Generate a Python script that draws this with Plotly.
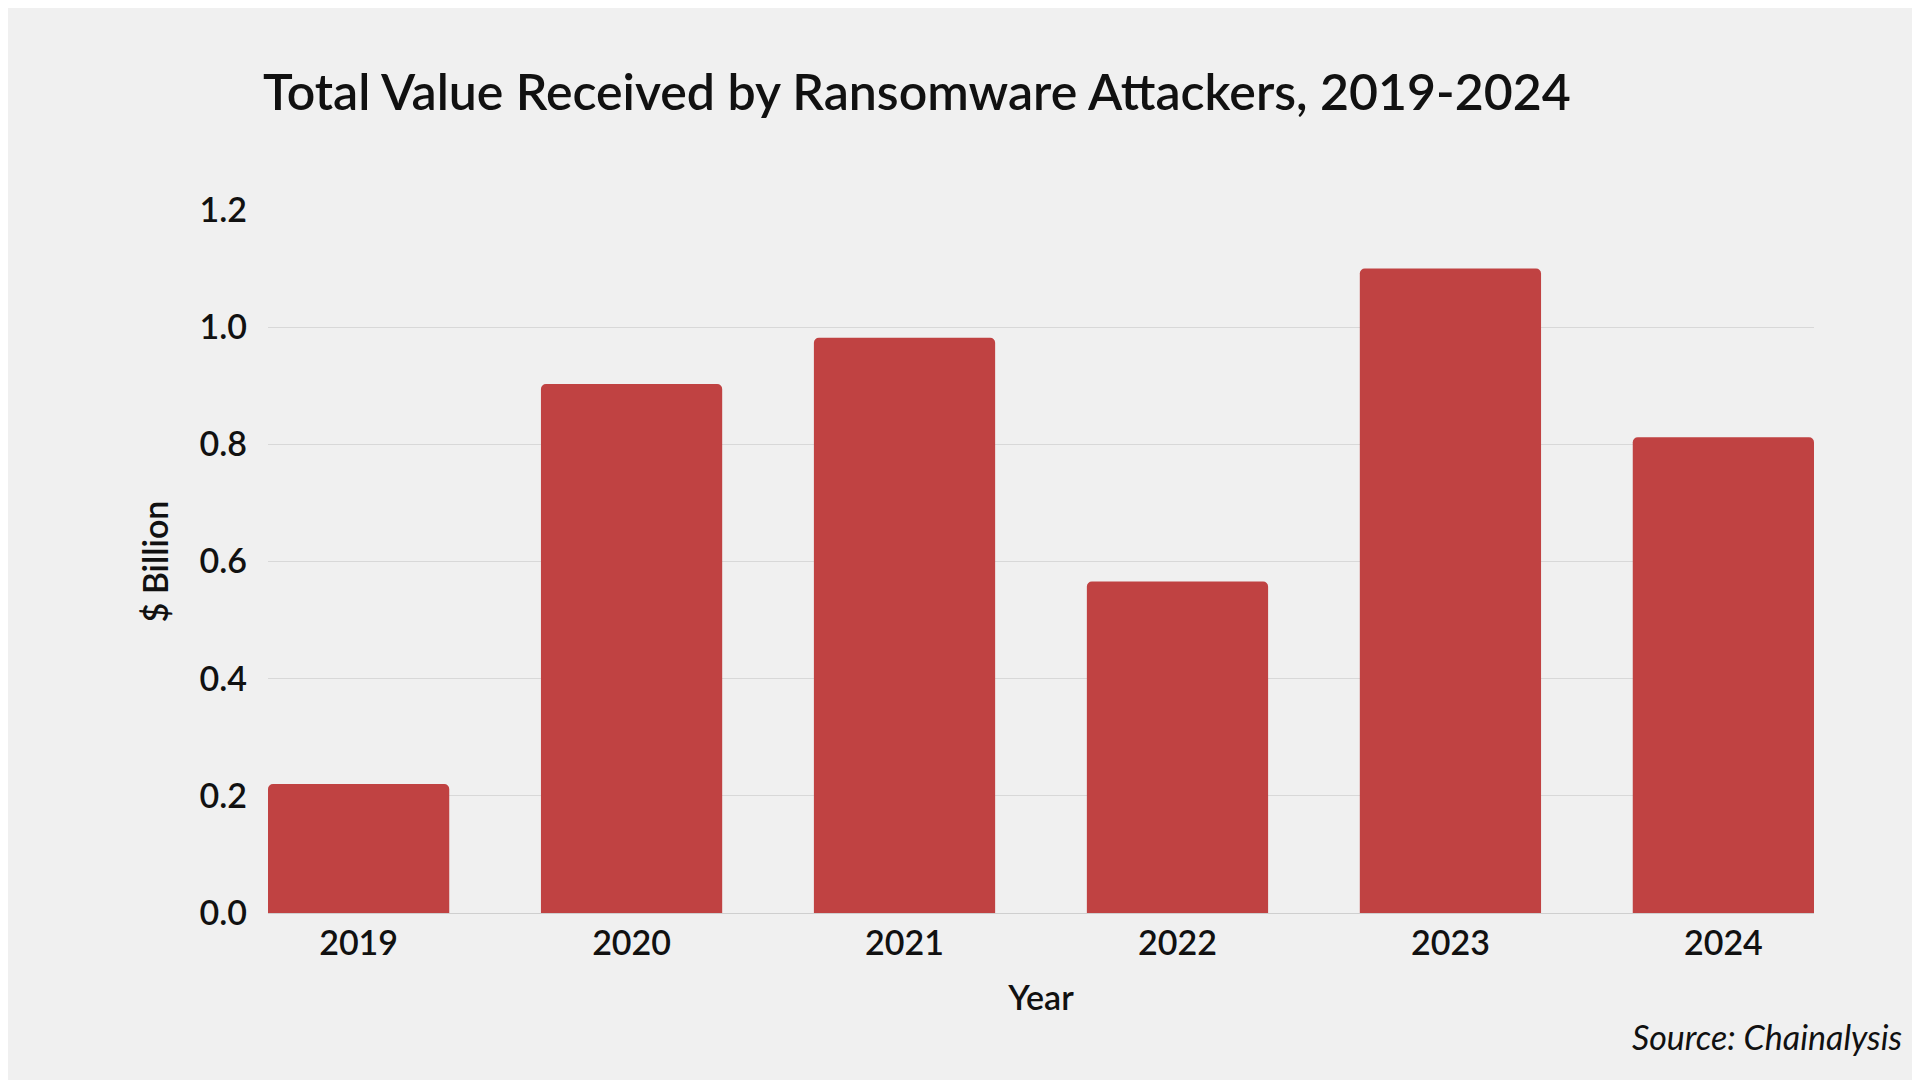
import plotly.graph_objects as go

years = ["2019", "2020", "2021", "2022", "2023", "2024"]
values = [0.22, 0.903, 0.982, 0.566, 1.10, 0.812]
y_ticks = [0.0, 0.2, 0.4, 0.6, 0.8, 1.0, 1.2]

fig = go.Figure(go.Bar(
    x=list(range(len(years))), y=values, marker_color="#C04242",
    width=0.664, marker_line_width=0))

fig.update_layout(
    width=1920, height=1080,
    paper_bgcolor="#F0F0F0", plot_bgcolor="#F0F0F0",
    margin=dict(l=260, r=114, t=202, b=175),
    barcornerradius=5,
    font=dict(family="Lato", color="#111111"),
    title=dict(text="Total Value Received by Ransomware Attackers, 2019-2024",
               x=255/1920, xanchor="left", y=1-84/1080, yanchor="middle",
               font=dict(size=50, family="Lato", weight=600, color="#111111")),
    showlegend=False,
)
fig.update_xaxes(range=[-0.332, 5.332], tickvals=list(range(len(years))), ticktext=years,
                 showgrid=False, showline=True, linecolor="#CFCFCF", ticks="",
                 tickfont=dict(size=34, weight=600),
                 title=dict(text="Year", font=dict(size=34, weight=600), standoff=25))
fig.update_yaxes(range=[0, 1.2], tickvals=y_ticks, ticktext=[f"{v:.1f}" for v in y_ticks],
                 showgrid=True, gridcolor="#D8D8D8", gridwidth=1, zeroline=False,
                 tickfont=dict(size=34, weight=600), ticklabelstandoff=20,
                 title=dict(text="$ Billion", font=dict(size=34, weight=600), standoff=20))
fig.add_annotation(text="Source: Chainalysis", xref="paper", yref="paper",
                   x=1 + 90/1546, xanchor="right", y=-(1028-905)/703, yanchor="middle",
                   showarrow=False, font=dict(size=34, style="italic", color="#111111"))
fig.write_html("out.html")
